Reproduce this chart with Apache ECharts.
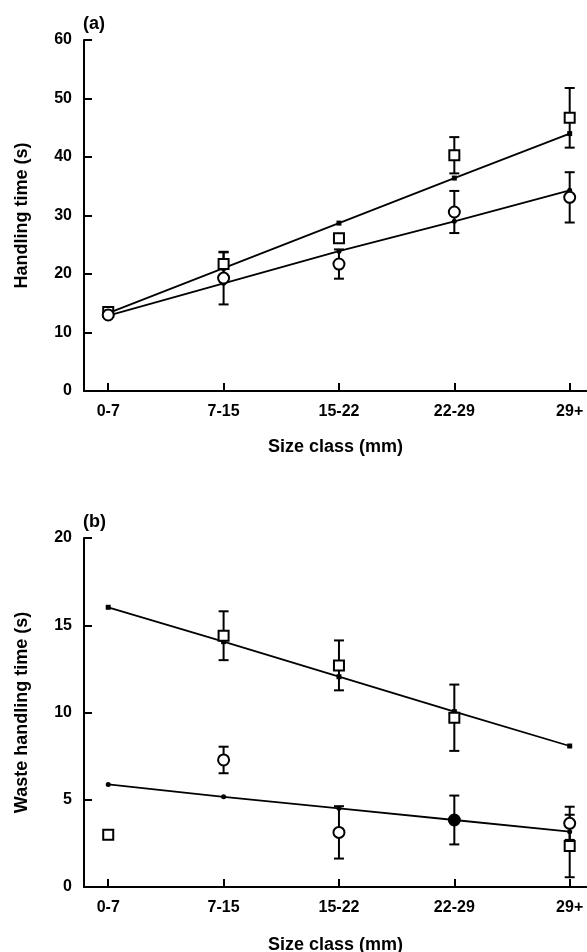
<!DOCTYPE html>
<html>
<head>
<meta charset="utf-8">
<script src="https://cdn.jsdelivr.net/npm/echarts@6/dist/echarts.min.js"></script>
<style>
  html, body { margin: 0; padding: 0; background: #fff; }
  #chart { width: 587px; height: 952px; }
</style>
</head>
<body>
<div id="chart"></div>
<script>
// Size classes on the horizontal axis
const categories = ['0-7', '7-15', '15-22', '22-29', '29+'];

// Panel (a): handling time (s)
const squareA = [13.5, 21.7, 26.1, 40.3, 46.7];
const squareErrA = [0, 2.0, 0, 3.1, 5.1];
const circleA = [13.0, 19.3, 21.7, 30.6, 33.1];
const circleErrA = [0, 4.5, 2.5, 3.6, 4.3];
const fitUpperA = [13.3, 21.0, 28.7, 36.4, 44.0];
const fitLowerA = [12.9, 18.4, 23.9, 29.0, 34.3];

// Panel (b): waste handling time (s)
const squareB = [3.0, 14.4, 12.7, 9.7, 2.35];
const squareErrB = [0, 1.4, 1.43, 1.9, 1.79];
const circleB = [null, 7.28, 3.13, 3.84, 3.65];
const circleErrB = [null, 0.76, 1.5, 1.4, 0.95];
const circleFilledB = [false, false, false, true, false];
const fitUpperB = [16.03, 14.06, 12.05, 10.05, 8.08];
const fitLowerB = [5.88, 5.17, 4.51, 3.84, 3.17];

// Y-axis ticks
const yTicksA = { max: 60, step: 10 };
const yTicksB = { max: 20, step: 5 };

const FONT = '"Liberation Sans", Arial, sans-serif';
const INK = '#000';

function pairs(values) {
  return values.map((v, i) => (v == null ? null : [i, v])).filter(Boolean);
}
function errPairs(values, errs) {
  return values.map((v, i) => (v == null || !errs[i] ? null : [i, v, errs[i]])).filter(Boolean);
}

function errorBarRender(params, api) {
  const x = api.value(0), y = api.value(1), e = api.value(2);
  const top = api.coord([x, y + e]);
  const bot = api.coord([x, y - e]);
  const half = 5;
  const style = { stroke: INK, lineWidth: 2 };
  return {
    type: 'group',
    children: [
      { type: 'line', shape: { x1: top[0], y1: top[1], x2: bot[0], y2: bot[1] }, style },
      { type: 'line', shape: { x1: top[0] - half, y1: top[1], x2: top[0] + half, y2: top[1] }, style },
      { type: 'line', shape: { x1: bot[0] - half, y1: bot[1], x2: bot[0] + half, y2: bot[1] }, style }
    ]
  };
}

function xAxisFor(gridIndex, nameGap) {
  return {
    type: 'value', gridIndex, min: -0.21, max: 4.15,
    name: 'Size class (mm)', nameLocation: 'middle', nameGap,
    nameTextStyle: { fontFamily: FONT, fontWeight: 'bold', fontSize: 18, color: INK },
    axisLine: { show: true, onZero: false, lineStyle: { color: INK, width: 2 } },
    axisTick: { show: true, inside: true, length: 8, lineStyle: { color: INK, width: 2 }, customValues: [0, 1, 2, 3, 4] },
    axisLabel: {
      customValues: [0, 1, 2, 3, 4], formatter: v => categories[Math.round(v)],
      fontFamily: FONT, fontWeight: 'bold', fontSize: 16, color: INK, margin: 13
    },
    splitLine: { show: false }
  };
}

function yAxisFor(gridIndex, ticks, name) {
  return {
    type: 'value', gridIndex, min: 0, max: ticks.max, interval: ticks.step,
    name, nameLocation: 'middle', nameRotate: 90, nameGap: 53,
    nameTextStyle: { fontFamily: FONT, fontWeight: 'bold', fontSize: 18, color: INK },
    axisLine: { show: true, onZero: false, lineStyle: { color: INK, width: 2 } },
    axisTick: { show: true, inside: true, length: 8, lineStyle: { color: INK, width: 2 } },
    axisLabel: { fontFamily: FONT, fontWeight: 'bold', fontSize: 16, color: INK, margin: 12 },
    splitLine: { show: false }
  };
}

function panelSeries(idx, sq, sqErr, ci, ciErr, fitUp, fitLow, filled) {
  const common = { xAxisIndex: idx, yAxisIndex: idx, animation: false, silent: true };
  return [
    Object.assign({
      type: 'line', data: pairs(fitUp), symbol: 'rect', symbolSize: 5, showSymbol: true,
      lineStyle: { color: INK, width: 1.8 }, itemStyle: { color: INK, opacity: 1 }, z: 2
    }, common),
    Object.assign({
      type: 'line', data: pairs(fitLow), symbol: 'circle', symbolSize: 5, showSymbol: true,
      lineStyle: { color: INK, width: 1.8 }, itemStyle: { color: INK, opacity: 1 }, z: 2
    }, common),
    Object.assign({ type: 'custom', renderItem: errorBarRender, data: errPairs(sq, sqErr), z: 3 }, common),
    Object.assign({ type: 'custom', renderItem: errorBarRender, data: errPairs(ci, ciErr), z: 3 }, common),
    Object.assign({
      type: 'scatter', data: pairs(sq), symbol: 'rect', symbolSize: 10,
      itemStyle: { color: '#fff', borderColor: INK, borderWidth: 2, opacity: 1 }, z: 4
    }, common),
    Object.assign({
      type: 'scatter', symbol: 'circle', symbolSize: 11,
      data: ci.map((v, i) => (v == null ? null : {
        value: [i, v],
        itemStyle: { color: filled && filled[i] ? INK : '#fff' }
      })).filter(Boolean),
      itemStyle: { borderColor: INK, borderWidth: 2, opacity: 1 }, z: 4
    }, common)
  ];
}

const chart = echarts.init(document.getElementById('chart'), null, { renderer: 'canvas' });
chart.setOption({
  backgroundColor: '#fff',
  animation: false,
  title: [
    { text: '(a)', left: 78, top: 10, textStyle: { fontFamily: FONT, fontWeight: 'bold', fontSize: 18, color: INK } },
    { text: '(b)', left: 78, top: 508, textStyle: { fontFamily: FONT, fontWeight: 'bold', fontSize: 18, color: INK } }
  ],
  grid: [
    { left: 84, right: 0, top: 40, height: 351, containLabel: false, outerBoundsMode: 'none' },
    { left: 84, right: 0, top: 538, height: 349, containLabel: false, outerBoundsMode: 'none' }
  ],
  xAxis: [xAxisFor(0, 47), xAxisFor(1, 49)],
  yAxis: [yAxisFor(0, yTicksA, 'Handling time (s)'), yAxisFor(1, yTicksB, 'Waste handling time (s)')],
  series: [].concat(
    panelSeries(0, squareA, squareErrA, circleA, circleErrA, fitUpperA, fitLowerA, null),
    panelSeries(1, squareB, squareErrB, circleB, circleErrB, fitUpperB, fitLowerB, circleFilledB)
  )
});
</script>
</body>
</html>
